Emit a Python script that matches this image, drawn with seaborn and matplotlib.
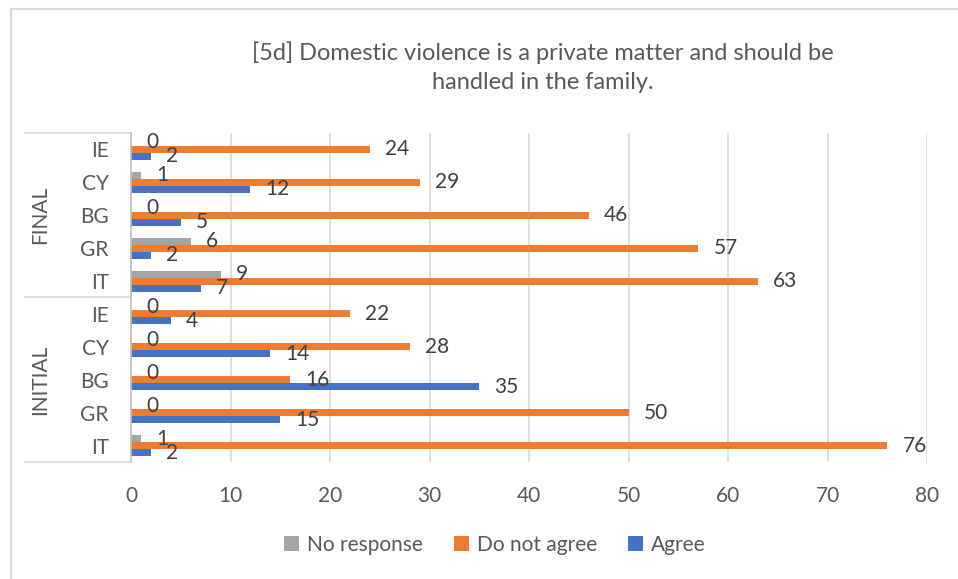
import matplotlib
matplotlib.use("Agg")
import matplotlib.pyplot as plt
from matplotlib.patches import Patch
from matplotlib.lines import Line2D
import pandas as pd
import seaborn as sns

# Survey answers per country, before (INITIAL) and after (FINAL)
phases = ["FINAL"] * 5 + ["INITIAL"] * 5
countries = ["IE", "CY", "BG", "GR", "IT", "IE", "CY", "BG", "GR", "IT"]
no_response = [0, 1, 0, 6, 9, 0, 0, 0, 0, 1]
do_not_agree = [24, 29, 46, 57, 63, 22, 28, 16, 50, 76]
agree = [2, 12, 5, 2, 7, 4, 14, 35, 15, 2]
series_names = ["No response", "Do not agree", "Agree"]
series_colors = ["#A5A5A5", "#ED7D31", "#4472C4"]
x_ticks = [0, 10, 20, 30, 40, 50, 60, 70, 80]

title = "[5d] Domestic violence is a private matter and should be\nhandled in the family."

keys = [f"{p}|{c}" for p, c in zip(phases, countries)]
rows = []
for series, vals in zip(series_names, [no_response, do_not_agree, agree]):
    for k, v in zip(keys, vals):
        rows.append({"key": k, "series": series, "value": v})
df = pd.DataFrame(rows)

sns.set_theme(style="white")
plt.rcParams["font.family"] = ["Lato", "DejaVu Sans"]

W, H = 958, 579
fig = plt.figure(figsize=(W / 100, H / 100), dpi=100)
left, right, top, bottom = 131, 927, 133, 462
ax = fig.add_axes([left / W, 1 - bottom / H, (right - left) / W, (bottom - top) / H])

palette = dict(zip(series_names, series_colors))
sns.barplot(data=df, x="value", y="key", hue="series", order=keys,
            hue_order=series_names, palette=palette, orient="h",
            width=0.64, errorbar=None, linewidth=0, saturation=1,
            legend=False, ax=ax)

for cont in ax.containers:
    ax.bar_label(cont, fmt="%g", padding=11, fontsize=15, color="#404040")

ax.set_xlim(0, 80)
ax.set_ylim(len(keys) - 0.5, -0.5)
ax.set_xticks(x_ticks)
ax.set_xticklabels([str(t) for t in x_ticks])
ax.set_yticks(range(len(keys)))
ax.set_yticklabels(countries)
ax.tick_params(axis="x", length=0, pad=17, labelsize=15, labelcolor="#595959")
ax.tick_params(axis="y", length=0, pad=16, labelsize=15, labelcolor="#595959")
ax.set_xlabel("")
ax.set_ylabel("")

ax.grid(axis="x", color="#D9D9D9", linewidth=1.2)
ax.set_axisbelow(True)
for s in ["top", "right", "bottom"]:
    ax.spines[s].set_visible(False)
ax.spines["left"].set_color("#BFBFBF")
ax.spines["left"].set_linewidth(1.2)

# Grouped category axis: separators and rotated group names
trans = ax.get_yaxis_transform()
x0 = (25 - left) / (right - left)
for yb in [-0.5, 4.5, 9.5]:
    ax.add_line(Line2D([x0, 0], [yb, yb], transform=trans, color="#D9D9D9",
                       linewidth=1.2, clip_on=False))
gx = -(left - 40) / (right - left)
ax.text(gx, 2, "FINAL", transform=trans, rotation=90,
        ha="center", va="center", fontsize=15, color="#595959")
ax.text(gx, 7, "INITIAL", transform=trans, rotation=90,
        ha="center", va="center", fontsize=15, color="#595959")

fig.text(543 / W, 1 - 67 / H, title, ha="center", va="center", fontsize=17,
         color="#595959", linespacing=1.45)

handles = [Patch(facecolor=c, edgecolor="none") for c in series_colors]
fig.legend(handles, series_names, loc="center", bbox_to_anchor=(495 / W, 1 - 545 / H),
           ncol=3, frameon=False, fontsize=15, handlelength=0.7, handleheight=0.7,
           handletextpad=0.4, columnspacing=1.5, labelcolor="#595959")

# Chart area border
fig.add_artist(Line2D([10.5 / W, 10.5 / W], [0, 1 - 8.5 / H], transform=fig.transFigure,
                      color="#D9D9D9", linewidth=1.5))
fig.add_artist(Line2D([10.5 / W, 1], [1 - 8.5 / H, 1 - 8.5 / H], transform=fig.transFigure,
                      color="#D9D9D9", linewidth=1.5))

fig.savefig("out.png", dpi=100)
